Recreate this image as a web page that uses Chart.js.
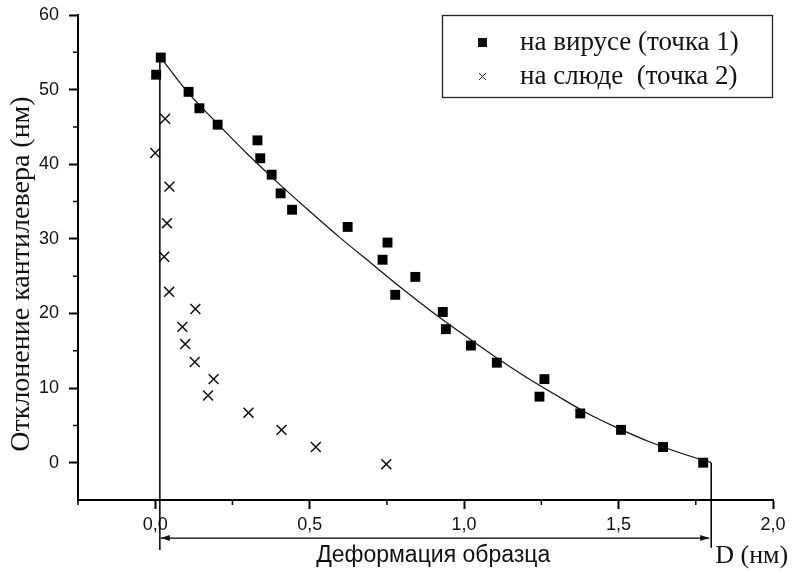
<!DOCTYPE html>
<html>
<head>
<meta charset="utf-8">
<script src="https://cdn.jsdelivr.net/npm/chart.js@4"></script>
<style>
  html, body { margin: 0; padding: 0; background: #fff; }
</style>
</head>
<body>
<canvas id="chart" width="793" height="573"></canvas>
<script>
// data
const virusX = [0.003, 0.018, 0.108, 0.143, 0.202, 0.331, 0.340, 0.377, 0.406, 0.443, 0.623, 0.752, 0.736, 0.842, 0.777, 0.931, 0.941, 1.022, 1.106, 1.260, 1.244, 1.376, 1.508, 1.644, 1.774];
const virusY = [52.0, 54.3, 49.7, 47.5, 45.3, 43.2, 40.8, 38.6, 36.1, 33.9, 31.6, 29.5, 27.2, 24.9, 22.5, 20.2, 17.9, 15.7, 13.4, 11.2, 8.85, 6.6, 4.4, 2.1, 0.0];
const micaX = [0.032, 0.0, 0.046, 0.038, 0.029, 0.045, 0.130, 0.088, 0.097, 0.128, 0.189, 0.171, 0.302, 0.409, 0.520, 0.748];
const micaY = [46.1, 41.5, 37.0, 32.1, 27.6, 22.9, 20.6, 18.2, 15.9, 13.5, 11.2, 9.0, 6.7, 4.4, 2.1, -0.2];
const fitX = [0.018, 0.1, 0.2, 0.3, 0.4, 0.5, 0.6, 0.7, 0.8, 0.9, 1.0, 1.1, 1.2, 1.3, 1.4, 1.5, 1.6, 1.7, 1.8];
const fitY = [54.3, 49.9, 45.5, 41.3, 37.4, 33.7, 30.1, 26.7, 23.3, 20.1, 17.1, 14.2, 11.5, 9.0, 6.6, 4.6, 2.8, 1.3, 0.0];
const startLineX = [0.015, 0.015];
const startLineY = [54.3, -11.7];
const endLineX = [1.8, 1.8];
const endLineY = [0, -11.4];
const arrowY = -10.1;

const xTicks = [0, 0.5, 1.0, 1.5, 2.0];
const xMinor = [-0.25, 0.25, 0.75, 1.25, 1.75];
const yTicks = [0, 10, 20, 30, 40, 50, 60];
const yMinor = [5, 15, 25, 35, 45, 55];

const legendLabels = ["на вирусе (точка 1)", "на слюде  (точка 2)"];
const xTitle = "Деформация образца";
const dLabel = "D (нм)";
const yTitle = "Отклонение кантилевера (нм)";

const zip = (xs, ys) => xs.map((x, i) => ({ x, y: ys[i] }));
const ink = "#111";
const serif = "'Liberation Serif', 'Times New Roman', serif";

const extras = {
  id: "extras",
  afterDatasetsDraw(chart) {
    const { ctx, chartArea, scales: { x, y } } = chart;
    ctx.save();
    ctx.strokeStyle = "#000";
    ctx.fillStyle = ink;

    // minor ticks
    ctx.lineWidth = 1.5;
    ctx.beginPath();
    xMinor.forEach(v => {
      const px = x.getPixelForValue(v);
      ctx.moveTo(px, chartArea.bottom);
      ctx.lineTo(px, chartArea.bottom + 5);
    });
    yMinor.forEach(v => {
      const py = y.getPixelForValue(v);
      ctx.moveTo(chartArea.left, py);
      ctx.lineTo(chartArea.left - 5, py);
    });
    ctx.stroke();

    // double arrow for deformation
    const ay = y.getPixelForValue(arrowY);
    const ax0 = x.getPixelForValue(startLineX[0]) + 1;
    const ax1 = x.getPixelForValue(endLineX[0]) - 2;
    ctx.lineWidth = 1.2;
    ctx.beginPath();
    ctx.moveTo(ax0, ay);
    ctx.lineTo(ax1, ay);
    ctx.stroke();
    ctx.beginPath();
    ctx.moveTo(ax0, ay);
    ctx.lineTo(ax0 + 9, ay - 3);
    ctx.lineTo(ax0 + 9, ay + 3);
    ctx.closePath();
    ctx.moveTo(ax1, ay);
    ctx.lineTo(ax1 - 9, ay - 3);
    ctx.lineTo(ax1 - 9, ay + 3);
    ctx.closePath();
    ctx.fill();

    // axis texts
    ctx.textBaseline = "middle";
    ctx.textAlign = "center";
    ctx.font = "23px 'Liberation Sans', Arial, sans-serif";
    ctx.fillText(xTitle, x.getPixelForValue(0.9), chartArea.bottom + 56);
    ctx.textAlign = "left";
    ctx.font = "26px " + serif;
    ctx.fillText(dLabel, x.getPixelForValue(1.8) + 4, chartArea.bottom + 56);

    ctx.save();
    ctx.translate(22, 274);
    ctx.rotate(-Math.PI / 2);
    ctx.textAlign = "center";
    ctx.font = "28px " + serif;
    ctx.fillText(yTitle, 0, 0);
    ctx.restore();

    // legend box
    ctx.lineWidth = 1.3;
    ctx.strokeStyle = "#222";
    ctx.strokeRect(442.5, 15.5, 330, 82);
    ctx.font = "27px " + serif;
    ctx.textAlign = "left";
    ctx.fillRect(478, 38, 9, 9);
    ctx.fillText(legendLabels[0], 520, 43);
    ctx.lineWidth = 1;
    ctx.beginPath();
    ctx.moveTo(479, 73); ctx.lineTo(486, 80);
    ctx.moveTo(486, 73); ctx.lineTo(479, 80);
    ctx.stroke();
    ctx.fillText(legendLabels[1], 520, 77);
    ctx.restore();
  }
};

const tickFont = { family: "'Liberation Sans', Arial, sans-serif", size: 18 };

new Chart(document.getElementById("chart"), {
  type: "scatter",
  data: {
    datasets: [
      { data: zip(startLineX, startLineY), showLine: true, borderColor: "#000", borderWidth: 1.5, pointRadius: 0, clip: false },
      { data: zip(endLineX, endLineY), showLine: true, borderColor: "#000", borderWidth: 1.5, pointRadius: 0, clip: false },
      { data: zip(fitX, fitY), showLine: true, borderColor: "#111", borderWidth: 1.2, pointRadius: 0, cubicInterpolationMode: "monotone", clip: false },
      { label: legendLabels[0], data: zip(virusX, virusY), pointStyle: "rect", pointRadius: 7, backgroundColor: "#000", borderColor: "#000", borderWidth: 0, clip: false },
      { label: legendLabels[1], data: zip(micaX, micaY), pointStyle: "crossRot", pointRadius: 7, borderColor: "#111", borderWidth: 1.5, clip: false }
    ]
  },
  options: {
    responsive: false,
    animation: false,
    devicePixelRatio: 1,
    layout: { padding: { top: 15, right: 20, left: 0, bottom: 0 } },
    plugins: { legend: { display: false }, tooltip: { enabled: false } },
    scales: {
      x: {
        type: "linear",
        min: -0.25,
        max: 2.0,
        afterBuildTicks: s => { s.ticks = xTicks.map(v => ({ value: v })); },
        afterFit: s => { s.height = 73; s.paddingLeft = 0; s.paddingRight = 0; },
        ticks: {
          color: ink,
          font: tickFont,
          padding: 5,
          maxRotation: 0,
          callback: v => v.toFixed(1).replace(".", ",")
        },
        grid: { drawOnChartArea: false, tickLength: 9, tickWidth: 2, tickColor: "#000" },
        border: { color: "#000", width: 2 }
      },
      y: {
        type: "linear",
        min: -5,
        max: 60,
        afterBuildTicks: s => { s.ticks = yTicks.map(v => ({ value: v })); },
        afterFit: s => { s.width = 78; s.paddingTop = 0; s.paddingBottom = 0; },
        ticks: { color: ink, font: tickFont, padding: 10 },
        grid: { drawOnChartArea: false, tickLength: 9, tickWidth: 2, tickColor: "#000" },
        border: { color: "#000", width: 2 }
      }
    }
  },
  plugins: [extras]
});
</script>
</body>
</html>
